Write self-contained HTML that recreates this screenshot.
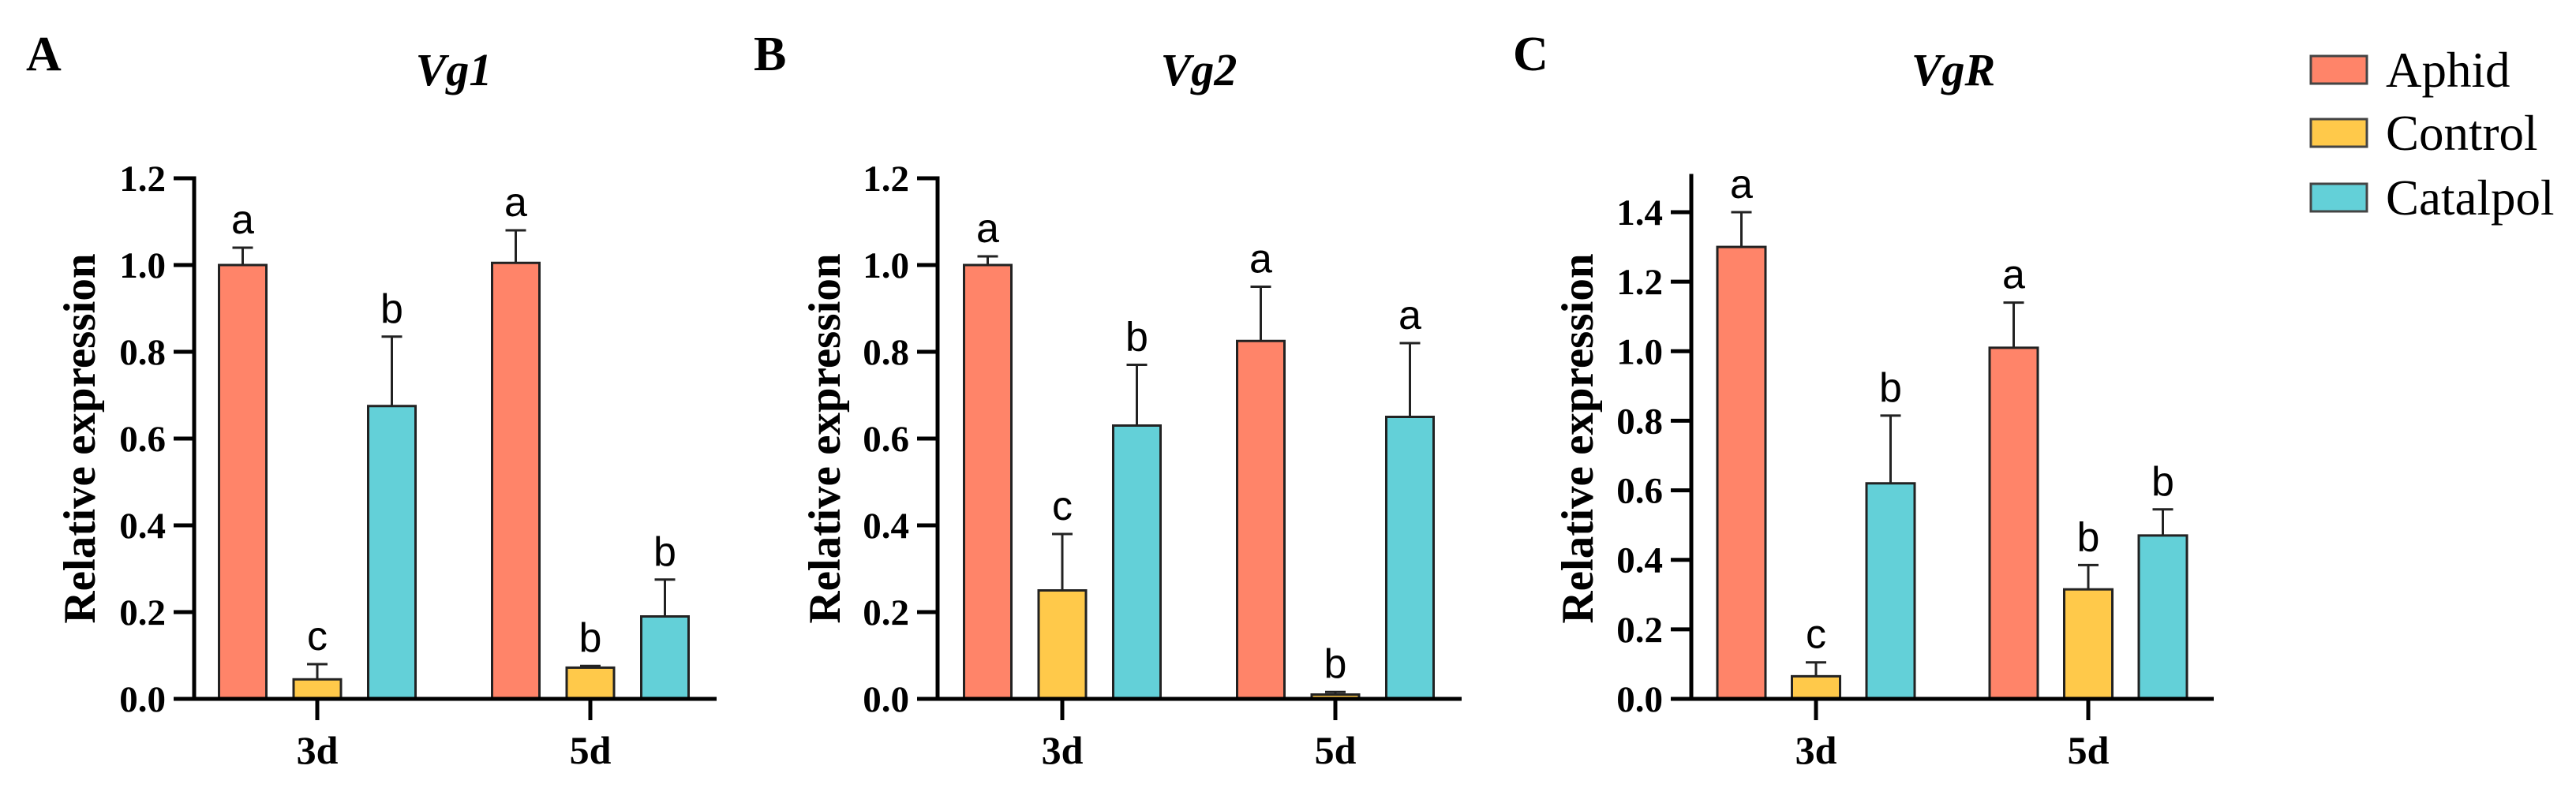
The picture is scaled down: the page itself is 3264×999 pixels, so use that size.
<!DOCTYPE html>
<html><head><meta charset="utf-8"><style>
body{margin:0;background:#fff}
svg{display:block}
</style></head><body>
<svg id="chart" width="3264" height="999" viewBox="0 0 3264 999" xmlns="http://www.w3.org/2000/svg">
<g id="root"></g>
</svg>
<script>
const groups = ["3d","5d"];
const seriesNames = ["Aphid","Control","Catalpol"];
const colors = ["#FF8469","#FFC94A","#63D0D8"];
// Panel A Vg1
const vg1Values = [[1.0,0.045,0.675],[1.005,0.072,0.19]];
const vg1Errors = [[0.04,0.035,0.16],[0.075,0.004,0.085]];
const vg1Letters = [["a","c","b"],["a","b","b"]];
const vg1Ticks = ["0.0","0.2","0.4","0.6","0.8","1.0","1.2"];
// Panel B Vg2
const vg2Values = [[1.0,0.25,0.63],[0.825,0.01,0.65]];
const vg2Errors = [[0.02,0.13,0.14],[0.125,0.006,0.17]];
const vg2Letters = [["a","c","b"],["a","b","a"]];
const vg2Ticks = ["0.0","0.2","0.4","0.6","0.8","1.0","1.2"];
// Panel C VgR
const vgrValues = [[1.30,0.065,0.62],[1.01,0.315,0.47]];
const vgrErrors = [[0.10,0.04,0.195],[0.13,0.07,0.075]];
const vgrLetters = [["a","c","b"],["a","b","b"]];
const vgrTicks = ["0.0","0.2","0.4","0.6","0.8","1.0","1.2","1.4"];

const NS="http://www.w3.org/2000/svg";
const root=document.getElementById('root');
function mk(tag,attrs,parent,text){const e=document.createElementNS(NS,tag);for(const k in attrs)e.setAttribute(k,attrs[k]);if(text!==undefined)e.textContent=text;(parent||root).appendChild(e);return e;}

function panel(cfg){
  const g=mk('g',{});
  
  
  const base=886, ax=cfg.ax, axEnd=cfg.axEnd, yMax=cfg.yMax, top=cfg.top;
  const y=v=>base-(v/yMax)*(base-top);
  const pl=mk('text',{x:cfg.lx,y:89,'font-family':'Liberation Serif, serif','font-weight':'bold','font-size':62},g,cfg.letter);
  
  
  const ti=mk('text',{x:cfg.tx,y:108,'text-anchor':'middle','font-family':'Liberation Serif, serif','font-weight':'bold','font-style':'italic','font-size':58},g,cfg.title);
  
  
  const yt=mk('text',{x:0,y:0,transform:`translate(${cfg.ytx},556) rotate(-90)`,'text-anchor':'middle','font-family':'Liberation Serif, serif','font-weight':'bold','font-size':57},g,'Relative expression');
  
  
  cfg.ticks.forEach(t=>{
    const v=parseFloat(t), yy=y(v);
    const tl=mk('line',{x1:ax-26,x2:ax,y1:yy,y2:yy,stroke:'#000','stroke-width':5},g);
    
    
    const tx=mk('text',{x:ax-36,y:yy+16,'text-anchor':'end','font-family':'Liberation Serif, serif','font-weight':'bold','font-size':47},g,t);
    
    
  });
  const ya=mk('line',{x1:ax,x2:ax,y1:top-(cfg.extra||0)-2.5,y2:base+2.5,stroke:'#000','stroke-width':5},g);
  
  
  groups.forEach((gr,gi)=>{
    const cx=cfg.gc[gi];
    cfg.values[gi].forEach((v,si)=>{
      const bx=cx+(si-1)*cfg.sp-cfg.bw/2;
      const et=y(v+cfg.errors[gi][si]);
      const el=mk('line',{x1:bx+cfg.bw/2,x2:bx+cfg.bw/2,y1:et,y2:y(v),stroke:'#222','stroke-width':3},g);
      
      
      const ec=mk('line',{x1:bx+cfg.bw/2-13,x2:bx+cfg.bw/2+13,y1:et,y2:et,stroke:'#222','stroke-width':3},g);
      
      
      const r=mk('rect',{x:bx,y:y(v),width:cfg.bw,height:base-y(v),fill:colors[si],stroke:'#222','stroke-width':3},g);
      
      
      const lt=mk('text',{x:bx+cfg.bw/2,y:et-18,'text-anchor':'middle','font-family':'Liberation Sans, sans-serif','font-size':52},g,cfg.letters[gi][si]);
      
      
    });
    const xt=mk('line',{x1:cx,x2:cx,y1:base,y2:base+27,stroke:'#000','stroke-width':5},g);
    
    
    const xl=mk('text',{x:cx,y:968,'text-anchor':'middle','font-family':'Liberation Serif, serif','font-weight':'bold','font-size':50},g,gr);
    
    
  });
  const xa=mk('line',{x1:ax-26,x2:axEnd,y1:base,y2:base,stroke:'#000','stroke-width':5},g);
  
  
}
panel({key:'a',letter:'A',lx:33,title:'Vg1',tx:575,ytx:120,ax:246,axEnd:908,top:226,yMax:1.2,gc:[402,748],sp:94.5,bw:60,values:vg1Values,errors:vg1Errors,letters:vg1Letters,ticks:vg1Ticks});
panel({key:'b',letter:'B',lx:955,title:'Vg2',tx:1519,ytx:1064,ax:1188,axEnd:1852,top:226,yMax:1.2,gc:[1346,1692],sp:94.5,bw:60,values:vg2Values,errors:vg2Errors,letters:vg2Letters,ticks:vg2Ticks});
panel({key:'c',letter:'C',lx:1917,title:'VgR',tx:2475,ytx:2018,ax:2143,axEnd:2805,top:269,yMax:1.4,extra:46,gc:[2301,2646],sp:94.5,bw:61,values:vgrValues,errors:vgrErrors,letters:vgrLetters,ticks:vgrTicks});

// legend
const lg=mk('g',{});


const ly=[88,168,250];
seriesNames.forEach((n,i)=>{
  const e=mk('g',{},lg);
  
  
  mk('rect',{x:2928,y:ly[i]-17,width:71,height:35,fill:colors[i],stroke:'#444','stroke-width':3},e);
  mk('text',{x:3023,y:ly[i]+22,'font-family':'Liberation Serif, serif','font-size':63},e,n);
});
</script>
</body></html>
